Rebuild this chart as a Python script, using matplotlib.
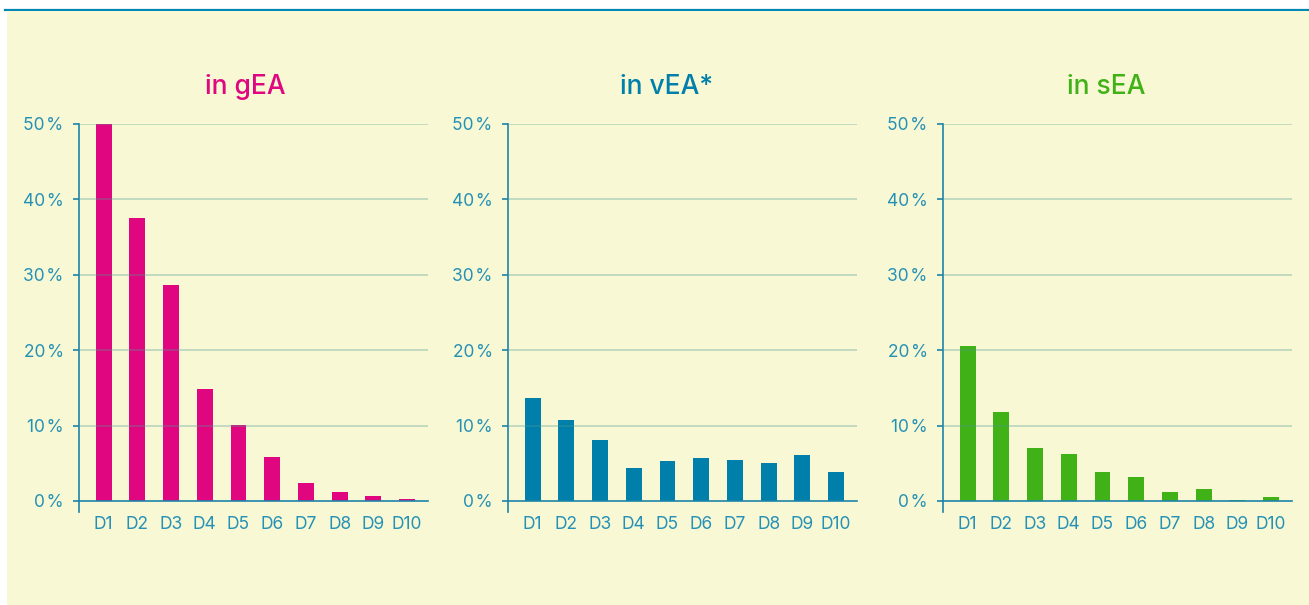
import numpy as np
import matplotlib.pyplot as plt
from matplotlib.patches import Rectangle
from matplotlib.lines import Line2D

plt.rcParams['font.family'] = ['Inter', 'DejaVu Sans']

# data: share per decile (in %)
deciles = ['D1', 'D2', 'D3', 'D4', 'D5', 'D6', 'D7', 'D8', 'D9', 'D10']
gea = [50.0, 37.5, 28.6, 14.85, 10.1, 5.8, 2.4, 1.2, 0.7, 0.3]
vea = [13.7, 10.7, 8.1, 4.4, 5.3, 5.7, 5.4, 5.0, 6.1, 3.9]
sea = [20.6, 11.8, 7.0, 6.2, 3.8, 3.2, 1.2, 1.6, 0.15, 0.5]

titles = ['in gEA', 'in vEA*', 'in sEA']
colors = ['#E0067F', '#007FAA', '#40B116']
yticks = [0, 10, 20, 30, 40, 50]
ytick_labels = ['0\u200a%', '10\u200a%', '20\u200a%', '30\u200a%', '40\u200a%', '50\u200a%']

W, H = 1309, 605
axis_col = '#1B84A8'
text_col = '#2591B6'

fig = plt.figure(figsize=(W / 100, H / 100), dpi=100, facecolor='white')

# background box and top rule
fig.patches.append(Rectangle((7 / W, 0), 1 - 7 / W, 1 - 11 / H, transform=fig.transFigure,
                             facecolor='#F8F8D4', edgecolor='none', zorder=-1))
fig.lines.append(Line2D([5 / W, 1], [1 - 10 / H, 1 - 10 / H], transform=fig.transFigure,
                        color='#0088B5', lw=1.6, zorder=-1))

lefts = [79, 508, 943]
title_x = [245, 667, 1106]
y0_px, y50_px = 501, 124
ymin = -1.5
px_per = (y0_px - y50_px) / 50
bottom_px = y0_px - ymin * px_per

for i, vals in enumerate([gea, vea, sea]):
    ax = fig.add_axes([lefts[i] / W, 1 - bottom_px / H, 349 / W, (bottom_px - y50_px) / H])
    ax.set_facecolor('none')
    x = np.arange(len(deciles))
    ax.bar(x, vals, width=0.47, color=colors[i], zorder=2)
    ax.set_xlim(-0.73, 9.62)
    ax.set_ylim(ymin, 50)
    for t in yticks[1:]:
        ax.axhline(t, color='#4E9A92', alpha=0.38, lw=1.2, zorder=3)
    for s in ['top', 'right']:
        ax.spines[s].set_visible(False)
    ax.spines['bottom'].set_position(('data', 0))
    ax.spines['bottom'].set_color(axis_col)
    ax.spines['left'].set_color(axis_col)
    ax.spines['bottom'].set_linewidth(1.2)
    ax.spines['left'].set_linewidth(1.2)
    ax.spines['bottom'].set_zorder(4)
    ax.set_yticks(yticks)
    ax.set_yticklabels(ytick_labels)
    ax.set_xticks(x)
    ax.set_xticklabels(deciles)
    ax.tick_params(axis='y', colors=axis_col, labelcolor=text_col, length=4.5, width=1.2,
                   pad=6.5, labelsize=12.5)
    ax.tick_params(axis='x', length=0, pad=10.5, labelcolor=text_col, labelsize=12.5)
    fig.text(title_x[i] / W, 1 - 87 / H, titles[i], color=colors[i], fontsize=19,
             fontweight='medium', ha='center', va='center')

fig.savefig('out.png', dpi=100, facecolor='white')
